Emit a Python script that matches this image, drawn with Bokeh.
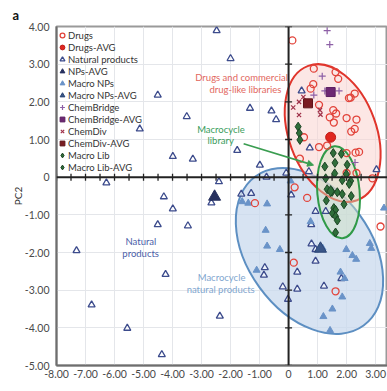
import numpy as np
from bokeh.plotting import figure
from bokeh.models import (Range1d, Span, Legend, LegendItem, Arrow, NormalHead,
                          NumeralTickFormatter, FixedTicker)
from bokeh.core.properties import value
from bokeh.embed import file_html
from bokeh.resources import INLINE

# ---------------- data (PC1, PC2) ----------------
drugs_x = [0.13, 0.87, 1.62, 1.71, 0.85, 0.76, 2.14, 2.28, 1.05, 1.54, 1.64, 1.42, 2.00, 2.34, 1.56,
           2.28, 2.16, 0.53, 1.05, 1.33, 2.31, 2.00, 2.43, 0.39, 2.00, 2.34, 2.89, 0.21, 0.64, -1.16,
           3.17, 0.18, 1.62, 2.08]
drugs_y = [3.63, 2.88, 2.79, 2.61, 2.47, 2.35, 2.11, 2.22, 1.92, 1.78, 1.69, 1.59, 1.57, 1.53, 1.45,
           1.28, 1.21, 1.06, 0.80, 0.84, 0.65, 0.64, 0.67, 0.49, 0.11, 0.11, -0.03, -0.27, -0.55, -0.69,
           -1.31, -2.27, -3.03, 2.10]
drugs_avg_x = [1.45]
drugs_avg_y = [1.06]

np_x = [-2.48, -2.00, -4.51, -5.13, -3.51, -1.33, -0.59, -0.43, -1.77, -3.99, -3.30, -0.99, -0.76,
        -2.40, -4.30, -6.28, -3.99, -2.66, -4.51, -3.47, -7.31, -4.24, -6.79, -5.56, -4.37, -2.37,
        0.45, 0.73, -0.08, 0.70, 3.03, 0.09, -1.63, -1.29, 0.93, 1.28, 0.78, 0.79, 0.93, 0.93, 0.30,
        -0.82, -0.85, 1.82, -0.20, 0.30, -0.02, 1.22]
np_y = [3.89, 3.15, 2.18, 1.28, 1.61, 1.83, 1.76, 1.53, 0.71, 0.55, 0.48, 0.32, 0.00,
        -0.12, -0.52, -0.15, -0.84, -0.68, -1.26, -1.29, -1.95, -2.58, -3.39, -4.01, -4.71, -3.69,
        2.29, 0.78, 0.11, 0.15, 0.20, -0.47, -0.45, -0.43, -0.91, -0.91, -1.26, -1.77, -1.92, -2.23, -2.52,
        -2.40, -2.60, -2.69, -2.91, -2.97, -3.24, -2.89]
np_avg_x = [-2.55]
np_avg_y = [-0.52]

mnp_x = [-1.60, -1.39, -0.74, 0.07, 0.76, 3.29, -0.79, -0.74, -0.30, 1.99, 2.20, 2.33, 2.80, 2.85,
         -1.10, 1.79, 1.93, 1.85, 1.51, 1.20, 1.43, 1.17]
mnp_y = [-0.65, -0.69, -0.71, -0.10, -1.18, -0.82, -1.41, -1.83, -1.92, -1.92, -2.08, -2.18, -1.76, -1.89,
         -2.47, -2.52, -2.69, -3.18, -3.50, -3.70, -4.07, -1.88]
mnp_avg_x = [1.10]
mnp_avg_y = [-1.90]

cb_x = [1.33, 1.42, 1.16, 0.87, 1.25, 1.74, 2.29]
cb_y = [3.89, 3.52, 2.68, 2.18, 2.29, 2.29, 0.39]
cb_avg_x = [1.45]
cb_avg_y = [2.26]

cd_x = [0.51, 0.36, 0.16, 0.36, 1.08, 1.10]
cd_y = [2.13, 2.00, 1.85, 1.65, 1.78, 1.66]
cd_avg_x = [0.67]
cd_avg_y = [1.96]

ml_x = [0.33, 0.37, 0.39, 1.54, 1.82, 1.25, 1.60, 2.02, 1.59, 1.99, 1.28, 1.85, 2.14, 2.09, 1.33,
        1.50, 1.68, 1.85, 2.16, 1.30, 1.91, 1.56, 1.62, 1.51, 1.62, 1.68, 1.62]
ml_y = [1.34, 1.17, 0.99, 0.64, 0.62, 0.28, 0.38, 0.33, 0.10, 0.08, -0.03, -0.08, -0.10, -0.18, -0.32,
        -0.39, -0.40, -0.45, -0.50, -0.62, -0.72, -0.82, -0.87, -0.96, -1.04, -1.15, -1.47]
ml_avg_x = [1.45]
ml_avg_y = [-0.37]

# confidence ellipses: macrocycle NPs, drugs+commercial, macrocycle library
ell_x = [0.72, 1.52, 1.72]
ell_y = [-1.96, 1.17, -0.40]
ell_w = [4.26, 3.02, 1.46]
ell_h = [4.89, 3.80, 2.45]
ell_angle = [36, 20, 5]

x_ticks = list(range(-8, 4))
y_ticks = list(range(-5, 5))

ann_text = ["Drugs and commercial", "drug-like libraries", "Macrocycle", "library",
            "Natural", "products", "Macrocycle", "natural products"]
ann_x = [-1.62, -1.49, -2.33, -2.34, -5.09, -5.10, -2.31, -2.34]
ann_y = [2.64, 2.33, 1.26, 0.97, -1.72, -2.03, -2.66, -2.97]

# ---------------- styling ----------------
RED = "#e2443b"
NAVY = "#3c4b8c"
LBLUE = "#6a93c8"
PURPLE = "#8d5fa6"
FONT = "Lato"
ell_fill = ["#c9d9ee", "#f9d3cf", "#cfe1bf"]
ell_falpha = [0.75, 0.55, 0.45]
ell_line = ["#5d8fc2", "#e0352c", "#2f9a48"]
ann_color = ["#e2675e", "#e2675e", "#3a9d5c", "#3a9d5c", "#4b5ea8", "#4b5ea8", "#7fa6cf", "#7fa6cf"]

p = figure(width=387, height=391, x_range=Range1d(-8, 3.41), y_range=Range1d(-5, 4),
           output_backend="svg", toolbar_location=None,
           min_border_left=56, min_border_right=0, min_border_top=26, min_border_bottom=26,
           title="a")
p.title.text_font = FONT
p.title.text_font_size = "13px"
p.title.text_font_style = "bold"
p.title.text_color = "#111111"
p.title.standoff = 7
p.title.offset = -44

p.background_fill_color = "white"
p.outline_line_color = "#9a9a9a"
p.outline_line_width = 2

p.xgrid.ticker = FixedTicker(ticks=x_ticks)
p.ygrid.ticker = FixedTicker(ticks=y_ticks)
p.grid.grid_line_color = "#e4e6ea"
p.grid.grid_line_width = 1

for ax, ticks in ((p.xaxis[0], x_ticks), (p.yaxis[0], y_ticks)):
    ax.ticker = FixedTicker(ticks=ticks)
    ax.formatter = NumeralTickFormatter(format="0.00")
    ax.major_label_overrides = {0: "0"}
    ax.major_tick_out = 0
    ax.major_tick_in = 0
    ax.minor_tick_line_color = None
    ax.axis_line_color = "#6e6e6e"
    ax.axis_line_width = 2
    ax.major_label_text_font = FONT
    ax.major_label_text_font_size = "10.5px"
    ax.major_label_text_color = "#4a4a4a"
p.xaxis.major_label_standoff = 4
p.yaxis.major_label_standoff = 7
p.yaxis.axis_label = "PC2"
p.yaxis.axis_label_text_font = FONT
p.yaxis.axis_label_text_font_size = "10px"
p.yaxis.axis_label_text_font_style = "normal"
p.yaxis.axis_label_text_color = "#333333"
p.yaxis.axis_label_standoff = -2

# ellipses
for i in range(len(ell_x)):
    p.ellipse(x=ell_x[i], y=ell_y[i], width=ell_w[i], height=ell_h[i],
              angle=np.deg2rad(ell_angle[i]),
              fill_color=ell_fill[i], fill_alpha=ell_falpha[i],
              line_color=ell_line[i], line_width=2)

# central axes
p.add_layout(Span(location=0, dimension="height", line_color="#222222", line_width=2))
p.add_layout(Span(location=0, dimension="width", line_color="#222222", line_width=2))
hx = np.arange(-8, 3.01, 0.5)
p.scatter(hx, np.zeros_like(hx), marker="dash", angle=np.pi / 2, size=7,
          line_color="#222222", line_width=1.3)
vy = np.arange(-5, 4.01, 1.0)
p.scatter(np.zeros_like(vy), vy, marker="dash", size=7, line_color="#222222", line_width=1.3)

# points
r_np = p.scatter(np_x, np_y, marker="triangle", size=7, fill_color="white", fill_alpha=0.6,
                 line_color=NAVY, line_width=1.3)
r_mnp = p.scatter(mnp_x, mnp_y, marker="triangle", size=7, fill_color=LBLUE, line_color=LBLUE,
                  line_width=1)
r_drugs = p.scatter(drugs_x, drugs_y, marker="circle", size=7, fill_color=None,
                    line_color=RED, line_width=1.3)
r_cb = p.scatter(cb_x, cb_y, marker="cross", size=7, line_color=PURPLE, line_width=1.2)
r_cd = p.scatter(cd_x, cd_y, marker="x", size=6, line_color="#a0324a", line_width=1.2)
r_ml = p.scatter(ml_x, ml_y, marker="diamond", size=9, fill_color="#2f6e3a",
                 line_color="#1c4424", line_width=1)

r_np_avg = p.scatter(np_avg_x, np_avg_y, marker="triangle", size=12, fill_color="#27315f",
                     line_color="#27315f")
r_mnp_avg = p.scatter(mnp_avg_x, mnp_avg_y, marker="triangle", size=12, fill_color="#3a5688",
                      line_color="#2b4474")
r_drugs_avg = p.scatter(drugs_avg_x, drugs_avg_y, marker="circle", size=10, fill_color="#e0261f",
                        line_color="#c01d18")
r_cb_avg = p.scatter(cb_avg_x, cb_avg_y, marker="square", size=9, fill_color="#6d2873",
                     line_color="#5a1f60")
r_cd_avg = p.scatter(cd_avg_x, cd_avg_y, marker="square", size=9, fill_color="#7a1c22",
                     line_color="#5e1419")
r_ml_avg = p.scatter(ml_avg_x, ml_avg_y, marker="diamond", size=11, fill_color="#2f6e3a",
                     line_color="#1c4424")

# annotations
p.text(x=ann_x, y=ann_y, text=ann_text, text_color=ann_color, text_font=value(FONT),
       text_font_size=value("9.5px"), text_align="center", text_baseline="middle")
GREEN_A = "#3a9d50"
p.add_layout(Arrow(end=NormalHead(size=6, fill_color=GREEN_A, line_color=GREEN_A),
                   x_start=-1.55, y_start=0.89, x_end=0.86, y_end=0.32,
                   line_color=GREEN_A, line_width=1.6))

legend = Legend(items=[
    LegendItem(label="Drugs", renderers=[r_drugs]),
    LegendItem(label="Drugs-AVG", renderers=[r_drugs_avg]),
    LegendItem(label="Natural products", renderers=[r_np]),
    LegendItem(label="NPs-AVG", renderers=[r_np_avg]),
    LegendItem(label="Macro NPs", renderers=[r_mnp]),
    LegendItem(label="Macro NPs-AVG", renderers=[r_mnp_avg]),
    LegendItem(label="ChemBridge", renderers=[r_cb]),
    LegendItem(label="ChemBridge-AVG", renderers=[r_cb_avg]),
    LegendItem(label="ChemDiv", renderers=[r_cd]),
    LegendItem(label="ChemDiv-AVG", renderers=[r_cd_avg]),
    LegendItem(label="Macro Lib", renderers=[r_ml]),
    LegendItem(label="Macro Lib-AVG", renderers=[r_ml_avg]),
], location=(0, 192), orientation="vertical")
legend.glyph_width = 12
legend.glyph_height = 12
legend.spacing = 0
legend.padding = 0
legend.margin = 0
legend.label_standoff = 0
legend.label_height = 12
legend.label_text_font = FONT
legend.label_text_font_size = "9.5px"
legend.label_text_color = "#333333"
legend.background_fill_alpha = 0
legend.border_line_color = None
p.add_layout(legend)

open("out.html", "w").write(file_html(p, INLINE))
